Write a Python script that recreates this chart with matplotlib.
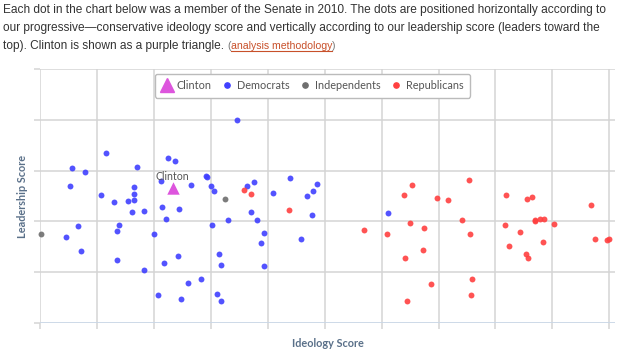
import matplotlib
matplotlib.use("Agg")
import matplotlib.pyplot as plt
from matplotlib.lines import Line2D

# Senate 2010: ideology (x, 0 = progressive, 1 = conservative) and leadership (y)
dem_x = [0.116, 0.057, 0.079, 0.170, 0.224, 0.237, 0.053, 0.107, 0.130, 0.154,
         0.165, 0.165, 0.165, 0.161, 0.183, 0.213, 0.215, 0.244, 0.221, 0.265,
         0.292, 0.293, 0.301, 0.306, 0.330, 0.066, 0.045, 0.072, 0.139, 0.136,
         0.135, 0.182, 0.200, 0.217, 0.242, 0.303, 0.315, 0.318, 0.282, 0.260,
         0.208, 0.248, 0.311, 0.318, 0.346, 0.376, 0.364, 0.410, 0.439, 0.487,
         0.480, 0.469, 0.477, 0.370, 0.382, 0.393, 0.388, 0.394, 0.459, 0.612]
dem_y = [0.669, 0.611, 0.594, 0.615, 0.650, 0.638, 0.538, 0.505, 0.478, 0.481,
         0.534, 0.509, 0.485, 0.436, 0.442, 0.558, 0.456, 0.448, 0.411, 0.542,
         0.578, 0.576, 0.538, 0.520, 0.406, 0.382, 0.337, 0.283, 0.386, 0.363,
         0.247, 0.210, 0.349, 0.235, 0.265, 0.387, 0.270, 0.227, 0.174, 0.156,
         0.109, 0.094, 0.115, 0.087, 0.799, 0.554, 0.539, 0.511, 0.572, 0.547,
         0.520, 0.499, 0.424, 0.436, 0.407, 0.356, 0.316, 0.223, 0.332, 0.433]

ind_x = [0.001, 0.325]
ind_y = [0.350, 0.488]

rep_x = [0.359, 0.371, 0.438, 0.569, 0.610, 0.650, 0.675, 0.673, 0.641, 0.644,
         0.686, 0.654, 0.639, 0.698, 0.717, 0.754, 0.742, 0.756, 0.758, 0.757,
         0.818, 0.855, 0.865, 0.817, 0.844, 0.824, 0.853, 0.857, 0.869, 0.870,
         0.879, 0.886, 0.903, 0.883, 0.967, 0.975, 0.996, 1.000]
rep_y = [0.524, 0.508, 0.444, 0.367, 0.352, 0.395, 0.374, 0.286, 0.255, 0.088,
         0.155, 0.542, 0.502, 0.492, 0.484, 0.562, 0.407, 0.352, 0.174, 0.111,
         0.505, 0.489, 0.497, 0.387, 0.359, 0.303, 0.270, 0.256, 0.402, 0.406,
         0.408, 0.408, 0.390, 0.318, 0.466, 0.329, 0.328, 0.329]

clinton_x = [0.233]
clinton_y = [0.533]

x_ticks = [i / 10 for i in range(11)]
y_ticks = [i / 5 for i in range(6)]

blue = "#4040ff"
red = "#ff4040"
gray = "#6e6e6e"
magenta = "#dd55dd"
label_col = "#5a7089"

fig = plt.figure(figsize=(6.24, 3.5), dpi=100)
ax = fig.add_axes([40 / 624, 27 / 350, 575 / 624, 254 / 350])
ax.set_xlim(0, 1.01)
ax.set_ylim(0, 1)

# grid
for xv in x_ticks:
    ax.axvline(xv, color="#d4d4d4", lw=1.1, zorder=0)
for yv in y_ticks[1:]:
    ax.axhline(yv, color="#d4d4d4", lw=1.1, zorder=0)
ax.axhline(0, color="#c9d7e6", lw=1.3, zorder=0)

for s in ax.spines.values():
    s.set_visible(False)
ax.set_xticks(x_ticks)
ax.set_yticks(y_ticks)
ax.set_xticklabels([])
ax.set_yticklabels([])
ax.tick_params(axis="both", length=4, width=1.1, color="#d4d4d4")

ax.scatter(dem_x, dem_y, s=18, color=blue, alpha=0.9, lw=0, zorder=3, clip_on=False)
ax.scatter(ind_x, ind_y, s=18, color=gray, alpha=0.9, lw=0, zorder=3, clip_on=False)
ax.scatter(rep_x, rep_y, s=18, color=red, alpha=0.9, lw=0, zorder=3, clip_on=False)
ax.scatter(clinton_x, clinton_y, s=80, marker="^", color=magenta, lw=0, zorder=4)
ax.annotate("Clinton", (clinton_x[0], clinton_y[0]), xytext=(0, 4),
            textcoords="offset points", ha="center", va="bottom",
            fontsize=7.6, color="#555555", family="Lato")

ax.set_xlabel("Ideology Score", fontsize=7.8, fontweight="bold", color=label_col,
              family="Lato", labelpad=3)
ax.set_ylabel("Leadership Score", fontsize=7.8, fontweight="bold", color=label_col,
              family="Lato", labelpad=1)

handles = [
    Line2D([], [], marker="^", ls="", color=magenta, markersize=10),
    Line2D([], [], marker="o", ls="", color=blue, markersize=3.8),
    Line2D([], [], marker="o", ls="", color=gray, markersize=3.8),
    Line2D([], [], marker="o", ls="", color=red, markersize=3.8),
]
leg = ax.legend(handles, ["Clinton", "Democrats", "Independents", "Republicans"],
                ncol=4, loc="upper center", bbox_to_anchor=(0.474, 1.003),
                prop={"family": "Lato", "size": 7.8}, handlelength=1.0,
                handletextpad=0.4, columnspacing=0.95, borderpad=0.6,
                frameon=True, fancybox=True, framealpha=1, edgecolor="#bbbbbb",
                labelcolor="#555555")
leg.get_frame().set_linewidth(1.0)

# intro text
txt_col = "#333333"
tprops = dict(fontsize=8.6, family="Liberation Sans", color=txt_col, va="center")
fig.text(3 / 624, 1 - 10 / 350, "Each dot in the chart below was a member of the Senate in 2010. "
         "The dots are positioned horizontally according to", **tprops)
fig.text(3 / 624, 1 - 28 / 350, "our progressive\u2014conservative ideology score and vertically "
         "according to our leadership score (leaders toward the", **tprops)
t1 = fig.text(3 / 624, 1 - 46 / 350, "top). Clinton is shown as a purple triangle. ", **tprops)

fig.canvas.draw()
r = fig.canvas.get_renderer()
x0 = t1.get_window_extent(r).x1
small = dict(fontsize=7.6, family="Liberation Sans", va="center")
p1 = fig.text(x0 / 624, 1 - 46 / 350, "(", color="#777777", **small)
fig.canvas.draw()
x1 = p1.get_window_extent(r).x1
lk = fig.text(x1 / 624, 1 - 46 / 350, "analysis methodology", color="#c8502a", **small)
fig.canvas.draw()
bb = lk.get_window_extent(r)
fig.add_artist(Line2D([bb.x0 / 624, bb.x1 / 624], [(bb.y0 + 0.5) / 350] * 2,
                      color="#c8502a", lw=0.8))
fig.text(bb.x1 / 624, 1 - 46 / 350, ")", color="#777777", **small)

fig.savefig("out.png", dpi=100)
